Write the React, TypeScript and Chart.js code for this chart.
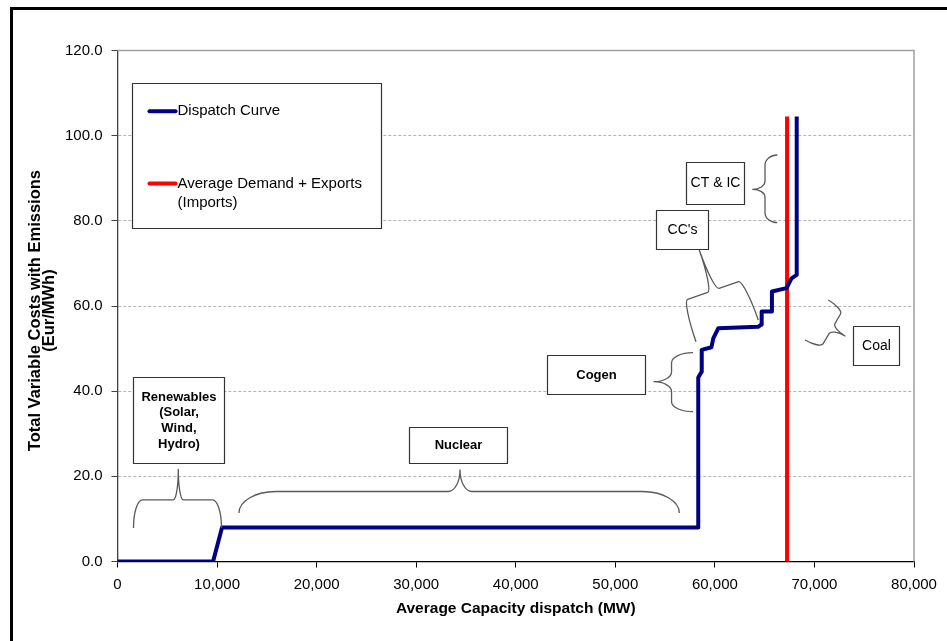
import React, { useEffect, useRef } from "react";
import { Chart, registerables } from "chart.js";

Chart.register(...registerables);

// ---------------- data ----------------
const DISPATCH_X = [0, 9600, 10500, 58330, 58330, 58650, 58680, 59650, 59840, 60350, 64350, 64650, 64700, 65680, 65730, 67200, 67700, 68220, 68220];
const DISPATCH_Y = [0, 0, 8, 8, 43.2, 44.5, 49.7, 50.3, 52.4, 54.8, 55.1, 55.6, 58.7, 58.7, 63.4, 64.2, 66.5, 67.3, 104.5];
const DEMAND_X = [67250, 67250];
const DEMAND_Y = [0, 104.5];

const SERIES_NAMES = ["Dispatch Curve", "Average Demand + Exports (Imports)"];
const LEGEND_LINES = [["Dispatch Curve"], ["Average Demand + Exports", "(Imports)"]];

const X_TICKS = [0, 10000, 20000, 30000, 40000, 50000, 60000, 70000, 80000];
const X_TICK_LABELS = ["0", "10,000", "20,000", "30,000", "40,000", "50,000", "60,000", "70,000", "80,000"];
const Y_TICKS = [0, 20, 40, 60, 80, 100, 120];
const Y_TICK_LABELS = ["0.0", "20.0", "40.0", "60.0", "80.0", "100.0", "120.0"];

const X_TITLE = "Average Capacity dispatch (MW)";
const Y_TITLE = ["Total Variable Costs with Emissions  ", "(Eur/MWh)  "];

// annotation boxes, in data units (x1, yTop, x2, yBottom)
const LABEL_TEXTS = [
  ["Renewables", "(Solar,", "Wind,", "Hydro)"],
  ["Nuclear"],
  ["Cogen"],
  ["CC's"],
  ["CT & IC"],
  ["Coal"],
];
const LABEL_BOLD = [true, true, true, false, false, false];
const LABEL_X1 = [1587, 29308, 43139, 54087, 57100, 73843];
const LABEL_Y1 = [43.33, 31.66, 48.49, 82.54, 93.89, 55.3];
const LABEL_X2 = [10697, 39151, 52982, 59340, 62955, 78463];
const LABEL_Y2 = [23.2, 23.2, 39.45, 73.32, 83.95, 46.14];

// braces: end A, end B, tip T (data units)
const BRACE_A = [[1607, 7.87], [12203, 11.39], [57803, 49.03], [66271, 95.46], [58105, 51.62], [71392, 61.41]];
const BRACE_B = [[10446, 7.87], [56427, 11.39], [57803, 35.18], [66271, 79.56], [64362, 56.72], [69052, 52.01]];
const BRACE_T = [[6107, 21.65], [34400, 21.49], [53886, 42.22], [63800, 87.4], [58436, 73.15], [73070, 52.95]];
const BRACE_FRAC = [0.48, 0.5, 0.55, 0.5, 0.5, 0.54];
const BRACE_R1 = [9, 37, 10, 10, 6, 6];
const BRACE_R2 = [5, 12, 10, 8, 6, 6];

// legend box (data units)
const LEGEND_BOX = { x1: 1426, y1: 112.3, x2: 26466, y2: 78.4 };

const FONT = '"Liberation Sans", Arial, sans-serif';
const NAVY = "#000080";
const RED = "#ff0000";

function drawBrace(ctx: CanvasRenderingContext2D, A: number[], B: number[], T: number[], frac: number, r1: number, r2: number) {
  const dx = B[0] - A[0];
  const dy = B[1] - A[1];
  const L = Math.hypot(dx, dy);
  const ux = dx / L;
  const uy = dy / L;
  let nx = -uy;
  let ny = ux;
  const tx = T[0] - A[0];
  const ty = T[1] - A[1];
  let h = tx * nx + ty * ny;
  if (h < 0) {
    nx = -nx;
    ny = -ny;
    h = -h;
  }
  const m = tx * ux + ty * uy;
  const d = h * frac;
  const t = h - d;
  const k = 0.5523;
  const P = (s: number, v: number): [number, number] => [A[0] + ux * s + nx * v, A[1] + uy * s + ny * v];
  const bez = (c1: number[], c2: number[], e: number[]) => ctx.bezierCurveTo(c1[0], c1[1], c2[0], c2[1], e[0], e[1]);
  ctx.beginPath();
  const p0 = P(0, 0);
  ctx.moveTo(p0[0], p0[1]);
  bez(P(0, k * d), P(r1 - k * r1, d), P(r1, d));
  const p1 = P(m - r2, d);
  ctx.lineTo(p1[0], p1[1]);
  bez(P(m - r2 + k * r2, d), P(m, d + t - k * t), P(m, d + t));
  bez(P(m, d + t - k * t), P(m + r2 - k * r2, d), P(m + r2, d));
  const p2 = P(L - r1, d);
  ctx.lineTo(p2[0], p2[1]);
  bez(P(L - r1 + k * r1, d), P(L, k * d), P(L, 0));
  ctx.stroke();
}

const annotationPlugin = {
  id: "annotationsCustom",
  beforeDatasetsDraw(chart: any) {
    const { ctx, chartArea } = chart;
    const { left, top, right, bottom } = chartArea;
    ctx.save();
    ctx.strokeStyle = "#a0a0a0";
    ctx.lineWidth = 1.5;
    ctx.setLineDash([]);
    ctx.beginPath();
    ctx.moveTo(left, top);
    ctx.lineTo(right, top);
    ctx.lineTo(right, bottom);
    ctx.stroke();
    ctx.restore();
  },
  afterDatasetsDraw(chart: any) {
    const { ctx } = chart;
    const xs = chart.scales.x;
    const ys = chart.scales.y;
    const px = (v: number) => xs.getPixelForValue(v);
    const py = (v: number) => ys.getPixelForValue(v);
    ctx.save();
    ctx.setLineDash([]);

    // braces
    ctx.strokeStyle = "#5a5a5a";
    ctx.lineWidth = 1.3;
    ctx.lineJoin = "round";
    for (let i = 0; i < BRACE_A.length; i++) {
      const A = [px(BRACE_A[i][0]), py(BRACE_A[i][1])];
      const B = [px(BRACE_B[i][0]), py(BRACE_B[i][1])];
      const T = [px(BRACE_T[i][0]), py(BRACE_T[i][1])];
      drawBrace(ctx, A, B, T, BRACE_FRAC[i], BRACE_R1[i], BRACE_R2[i]);
    }

    // label boxes
    for (let i = 0; i < LABEL_TEXTS.length; i++) {
      const x1 = Math.round(px(LABEL_X1[i])) + 0.5;
      const x2 = Math.round(px(LABEL_X2[i])) + 0.5;
      const y1 = Math.round(py(LABEL_Y1[i])) + 0.5;
      const y2 = Math.round(py(LABEL_Y2[i])) + 0.5;
      ctx.fillStyle = "#ffffff";
      ctx.fillRect(x1, y1, x2 - x1, y2 - y1);
      ctx.strokeStyle = "#333333";
      ctx.lineWidth = 1.2;
      ctx.strokeRect(x1, y1, x2 - x1, y2 - y1);
      const lines = LABEL_TEXTS[i];
      const bold = LABEL_BOLD[i];
      ctx.font = `${bold ? "bold " : ""}${bold ? 13 : 14}px ${FONT}`;
      ctx.fillStyle = "#000000";
      ctx.textAlign = "center";
      ctx.textBaseline = "middle";
      const lh = 15.7;
      const cx = (x1 + x2) / 2;
      const cy = (y1 + y2) / 2;
      const startY = cy - ((lines.length - 1) * lh) / 2;
      lines.forEach((ln, j) => ctx.fillText(ln, cx, startY + j * lh));
    }

    // legend
    const lx1 = Math.round(px(LEGEND_BOX.x1)) + 0.5;
    const lx2 = Math.round(px(LEGEND_BOX.x2)) + 0.5;
    const ly1 = Math.round(py(LEGEND_BOX.y1)) + 0.5;
    const ly2 = Math.round(py(LEGEND_BOX.y2)) + 0.5;
    ctx.fillStyle = "#ffffff";
    ctx.fillRect(lx1, ly1, lx2 - lx1, ly2 - ly1);
    ctx.strokeStyle = "#333333";
    ctx.lineWidth = 1.2;
    ctx.strokeRect(lx1, ly1, lx2 - lx1, ly2 - ly1);
    const colors = [NAVY, RED];
    const entryY = [27.7, 100];
    ctx.font = `15px ${FONT}`;
    ctx.textAlign = "left";
    ctx.textBaseline = "middle";
    for (let i = 0; i < SERIES_NAMES.length; i++) {
      const y = ly1 + entryY[i];
      ctx.strokeStyle = colors[i];
      ctx.lineWidth = 4;
      ctx.lineCap = "round";
      ctx.beginPath();
      ctx.moveTo(lx1 + 17, y);
      ctx.lineTo(lx1 + 43, y);
      ctx.stroke();
      ctx.fillStyle = "#000000";
      LEGEND_LINES[i].forEach((t, j) => ctx.fillText(t, lx1 + 45, y + j * 19));
    }
    ctx.restore();
  },
};

export default function App() {
  const canvasRef = useRef<HTMLCanvasElement | null>(null);

  useEffect(() => {
    if (!canvasRef.current) return;
    Chart.defaults.font.family = FONT;
    const chart = new Chart(canvasRef.current, {
      type: "scatter",
      data: {
        datasets: [
          {
            label: SERIES_NAMES[0],
            data: DISPATCH_X.map((x, i) => ({ x, y: DISPATCH_Y[i] })),
            showLine: true,
            borderColor: NAVY,
            backgroundColor: NAVY,
            borderWidth: 4,
            pointRadius: 0,
            tension: 0,
            borderJoinStyle: "round",
          },
          {
            label: SERIES_NAMES[1],
            data: DEMAND_X.map((x, i) => ({ x, y: DEMAND_Y[i] })),
            showLine: true,
            borderColor: RED,
            backgroundColor: RED,
            borderWidth: 4,
            pointRadius: 0,
            tension: 0,
          },
        ],
      },
      options: {
        animation: false,
        responsive: true,
        maintainAspectRatio: false,
        layout: { padding: { top: 50.5, left: 0, right: 33, bottom: 0 } },
        plugins: {
          legend: { display: false },
          tooltip: { enabled: false },
        },
        scales: {
          x: {
            type: "linear",
            min: 0,
            max: 80000,
            afterBuildTicks: (s: any) => {
              s.ticks = X_TICKS.map((v) => ({ value: v }));
            },
            afterFit: (s: any) => {
              s.height = 79.5;
            },
            ticks: {
              callback: (_v: any, i: number) => X_TICK_LABELS[i],
              font: { size: 15 },
              color: "#000000",
              padding: 8,
              maxRotation: 0,
              autoSkip: false,
            },
            grid: {
              drawOnChartArea: false,
              drawTicks: true,
              tickLength: 6,
              tickColor: "#000000",
              tickWidth: 1,
            },
            border: { color: "#000000", width: 1.3 },
            title: {
              display: true,
              text: X_TITLE,
              color: "#000000",
              font: { size: 15.5, weight: "bold" },
              padding: { top: 0, bottom: 22.7 },
            },
          },
          y: {
            type: "linear",
            min: 0,
            max: 120,
            afterBuildTicks: (s: any) => {
              s.ticks = Y_TICKS.map((v) => ({ value: v }));
            },
            afterFit: (s: any) => {
              s.width = 117.5;
            },
            ticks: {
              callback: (_v: any, i: number) => Y_TICK_LABELS[i],
              font: { size: 15 },
              color: "#000000",
              padding: 9,
            },
            grid: {
              color: (c: any) =>
                c.tick && (c.tick.value === 0 || c.tick.value === 120) ? "rgba(0,0,0,0)" : "#b4b4b4",
              lineWidth: 1,
              drawTicks: true,
              tickLength: 6,
              tickColor: "#404040",
              tickWidth: 1,
            },
            border: { color: "#404040", width: 1.3, dash: [3, 2] },
            title: {
              display: true,
              text: Y_TITLE,
              color: "#000000",
              font: { size: 16.5, weight: "bold", lineHeight: "14.5px" },
              padding: { top: 28, bottom: 0 },
            },
          },
        },
      },
      plugins: [annotationPlugin],
    } as any);
    return () => chart.destroy();
  }, []);

  return (
    <div style={{ position: "fixed", left: 0, top: 0, width: 947, height: 641, background: "#ffffff", overflow: "hidden" }}>
      <div
        style={{
          position: "absolute",
          left: 10,
          top: 7,
          width: 1000,
          height: 1000,
          border: "3px solid #000000",
          boxSizing: "border-box",
        }}
      />
      <div style={{ position: "absolute", left: 0, top: 0, width: 947, height: 641 }}>
        <canvas ref={canvasRef} />
      </div>
    </div>
  );
}
